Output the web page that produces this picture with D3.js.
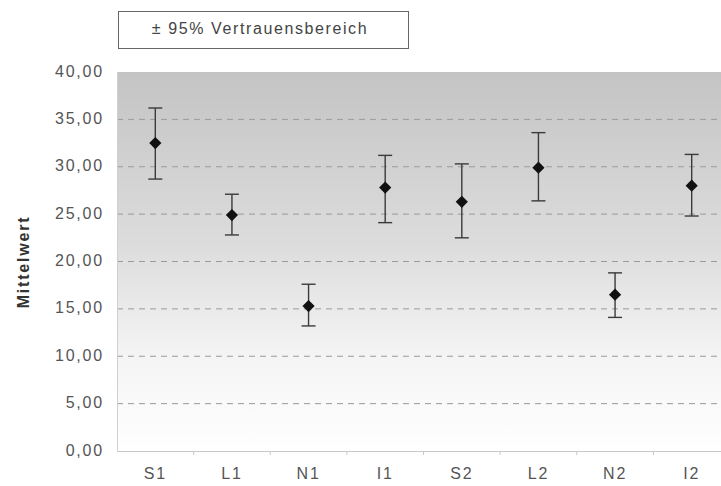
<!DOCTYPE html>
<html>
<head>
<meta charset="utf-8">
<script src="https://cdn.jsdelivr.net/npm/d3@7"></script>
<style>
  body { margin: 0; background: #fff; }
  text { font-family: "Liberation Sans", Arial, sans-serif; }
  .tick-lab { font-size: 16px; fill: #555; letter-spacing: 1.8px; }
  .y-title { font-size: 16px; font-weight: bold; fill: #333; letter-spacing: 1.8px; }
  .legend-text { font-size: 16px; fill: #444; letter-spacing: 1.6px; }
</style>
</head>
<body>
<svg width="721" height="486"></svg>
<script>
// data
var categories = ["S1", "L1", "N1", "I1", "S2", "L2", "N2", "I2"];
var means = [32.5, 24.9, 15.3, 27.8, 26.3, 29.9, 16.5, 28.0];
var upper = [36.2, 27.1, 17.6, 31.2, 30.3, 33.6, 18.8, 31.3];
var lower = [28.7, 22.8, 13.2, 24.1, 22.5, 26.4, 14.1, 24.8];
var yTicks = [0, 5, 10, 15, 20, 25, 30, 35, 40];
var legendLabel = "± 95% Vertrauensbereich";
var yTitle = "Mittelwert";

var svg = d3.select("svg");
var plot = { left: 117, top: 72, right: 730, bottom: 451 };

var x = d3.scaleBand().domain(categories).range([plot.left, plot.right]);
var y = d3.scaleLinear().domain([0, 40]).range([plot.bottom, plot.top]);

// background gradient
var defs = svg.append("defs");
var grad = defs.append("linearGradient").attr("id", "bg")
  .attr("x1", 0).attr("y1", 0).attr("x2", 0).attr("y2", 1);
grad.append("stop").attr("offset", "0%").attr("stop-color", "#c4c4c4");
grad.append("stop").attr("offset", "45%").attr("stop-color", "#dcdcdc");
grad.append("stop").attr("offset", "75%").attr("stop-color", "#f4f4f4");
grad.append("stop").attr("offset", "100%").attr("stop-color", "#ffffff");

svg.append("rect")
  .attr("x", plot.left).attr("y", plot.top)
  .attr("width", plot.right - plot.left).attr("height", plot.bottom - plot.top)
  .style("fill", "url(#bg)");

// grid lines
svg.append("g").selectAll("line")
  .data(yTicks.filter(d => d > 0 && d < 40)).enter().append("line")
  .attr("x1", plot.left).attr("x2", plot.right)
  .attr("y1", d => y(d)).attr("y2", d => y(d))
  .style("stroke", "#9a9a9a").style("stroke-width", 1)
  .style("stroke-dasharray", "6,5");

// axes
var yAxis = svg.append("g").attr("transform", "translate(" + plot.left + ",0)")
  .call(d3.axisLeft(y).tickValues(yTicks).tickSize(0).tickPadding(13)
    .tickFormat(d => d3.format(".2f")(d).replace(".", ",")));
yAxis.select(".domain").style("stroke", "#d0d0d0");
yAxis.selectAll("text").attr("class", "tick-lab").attr("dy", "0.25em");

var xAxis = svg.append("g").attr("transform", "translate(0," + plot.bottom + ")")
  .call(d3.axisBottom(x).tickSize(0).tickPadding(17));
xAxis.select(".domain").style("stroke", "#c8c8c8");
xAxis.selectAll("text").attr("class", "tick-lab");
// small tick marks between categories
svg.append("g").selectAll("line")
  .data(categories.slice(1)).enter().append("line")
  .attr("x1", d => x(d)).attr("x2", d => x(d))
  .attr("y1", plot.bottom).attr("y2", plot.bottom + 4)
  .style("stroke", "#c8c8c8");

// y title
svg.append("text").attr("class", "y-title")
  .attr("transform", "translate(29,262) rotate(-90)")
  .attr("text-anchor", "middle")
  .text(yTitle);

// error bars
var rows = categories.map((c, i) => ({ c: c, m: means[i], hi: upper[i], lo: lower[i] }));
var bars = svg.append("g").selectAll("g").data(rows).enter().append("g")
  .attr("transform", d => "translate(" + (x(d.c) + x.bandwidth() / 2) + ",0)");

bars.append("line")
  .attr("y1", d => y(d.hi)).attr("y2", d => y(d.lo))
  .style("stroke", "#3a3a3a").style("stroke-width", 1.4);
bars.append("line")
  .attr("x1", -7).attr("x2", 7)
  .attr("y1", d => y(d.hi)).attr("y2", d => y(d.hi))
  .style("stroke", "#3a3a3a").style("stroke-width", 1.4);
bars.append("line")
  .attr("x1", -7).attr("x2", 7)
  .attr("y1", d => y(d.lo)).attr("y2", d => y(d.lo))
  .style("stroke", "#3a3a3a").style("stroke-width", 1.4);
bars.append("path")
  .attr("d", d3.symbol().type(d3.symbolDiamond2).size(95))
  .attr("transform", d => "translate(0," + y(d.m) + ")")
  .style("fill", "#111");

// legend box
var leg = svg.append("g");
leg.append("rect").attr("x", 118.5).attr("y", 11.5).attr("width", 290).attr("height", 37)
  .style("fill", "#fff").style("stroke", "#666");
leg.append("text").attr("class", "legend-text")
  .attr("x", 260).attr("y", 28).attr("dy", "0.35em").attr("text-anchor", "middle")
  .text(legendLabel);
</script>
</body>
</html>
